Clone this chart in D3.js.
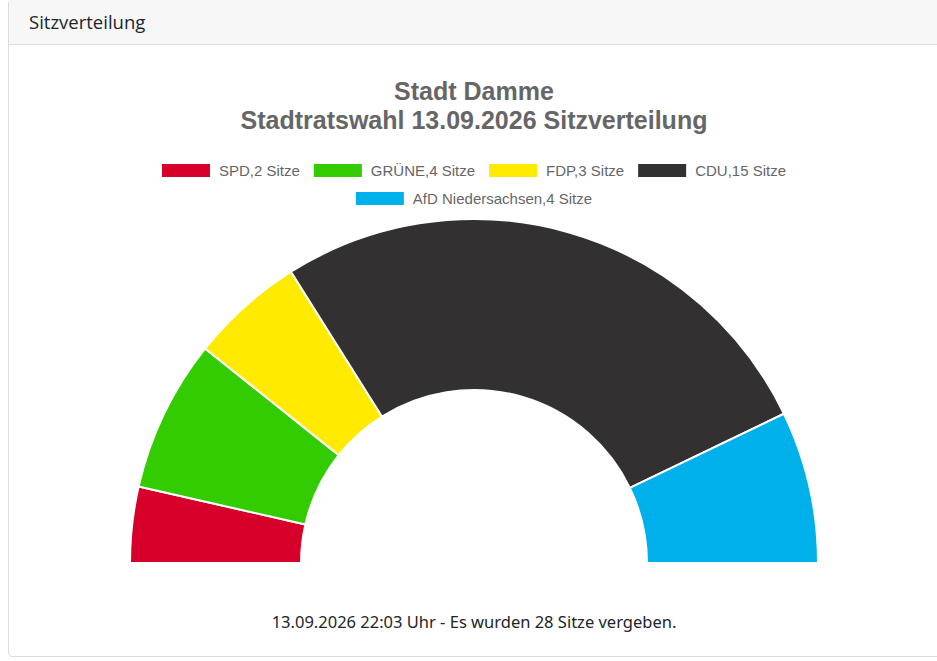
<!DOCTYPE html>
<html lang="de">
<head>
<meta charset="UTF-8">
<title>Sitzverteilung</title>
<script src="https://d3js.org/d3.v7.min.js"></script>
<style>
  body { margin: 0; padding: 0; background: #fff; overflow: hidden; }
  .card { position: absolute; left: 8px; top: -1px; width: 960px; height: 656px;
          border: 1px solid #dcdcdc; border-radius: 4px; background: #fff; }
  .card-header { height: 45px; background: #f7f7f7; border-bottom: 1px solid #dcdcdc;
                 font-family: "Open Sans", sans-serif; font-size: 18.5px; color: #212529;
                 line-height: 43px; padding-left: 20px; box-sizing: border-box; }
  #chart { position: absolute; left: 0; top: 0; }
</style>
</head>
<body>
<div class="card"><div class="card-header">Sitzverteilung</div></div>
<svg id="chart" width="937" height="661"></svg>
<script>
  const parties = ["SPD", "GRÜNE", "FDP", "CDU", "AfD Niedersachsen"];
  const seats = [2, 4, 3, 15, 4];
  const colors = ["#d7002a", "#33cc00", "#ffea00", "#323030", "#00b0ea"];
  const titleLines = ["Stadt Damme", "Stadtratswahl 13.09.2026 Sitzverteilung"];
  const footer = "13.09.2026 22:03 Uhr - Es wurden 28 Sitze vergeben.";

  const svg = d3.select("#chart");
  const cx = 474, cy = 563, outerR = 344, innerR = 173;

  // title
  svg.selectAll("text.title")
    .data(titleLines)
    .join("text")
    .attr("class", "title")
    .attr("x", cx)
    .attr("y", (d, i) => 100 + i * 29)
    .attr("text-anchor", "middle")
    .attr("font-family", "Liberation Sans, Arial, sans-serif")
    .attr("font-weight", "bold")
    .attr("font-size", 25)
    .attr("fill", "#666")
    .text(d => d);

  // legend, wrapped and centered like the original
  const items = parties.map((p, i) => ({ label: p + "," + seats[i] + " Sitze", color: colors[i] }));
  const legend = svg.append("g");
  const rectW = 48, rectH = 13, gap = 9, spacing = 14, maxRow = 680;
  const nodes = items.map(it => {
    const g = legend.append("g");
    g.append("rect").attr("width", rectW).attr("height", rectH).attr("fill", it.color);
    const t = g.append("text")
      .attr("x", rectW + gap).attr("y", rectH - 1)
      .attr("font-family", "Liberation Sans, Arial, sans-serif")
      .attr("font-size", 15).attr("fill", "#666")
      .text(it.label);
    return { g, w: rectW + gap + t.node().getComputedTextLength() };
  });
  const rows = [[]];
  let rowW = 0;
  nodes.forEach(n => {
    const add = rows[rows.length - 1].length ? spacing + n.w : n.w;
    if (rowW + add > maxRow) { rows.push([n]); rowW = n.w; }
    else { rows[rows.length - 1].push(n); rowW += add; }
  });
  rows.forEach((row, r) => {
    const total = d3.sum(row, n => n.w) + spacing * (row.length - 1);
    let x = cx - total / 2;
    row.forEach(n => {
      n.g.attr("transform", `translate(${x},${164 + r * 28})`);
      x += n.w + spacing;
    });
  });

  // half donut
  const pie = d3.pie().sort(null).startAngle(-Math.PI / 2).endAngle(Math.PI / 2);
  const arc = d3.arc().innerRadius(innerR).outerRadius(outerR);
  svg.append("g")
    .attr("transform", `translate(${cx},${cy})`)
    .selectAll("path")
    .data(pie(seats))
    .join("path")
    .attr("d", arc)
    .attr("fill", (d, i) => colors[i])
    .attr("stroke", "#fff")
    .attr("stroke-width", 2)
    .attr("stroke-linejoin", "round");

  // footer
  svg.append("text")
    .attr("x", cx)
    .attr("y", 628)
    .attr("text-anchor", "middle")
    .attr("font-family", "Noto Sans, sans-serif")
    .attr("font-size", 16.5)
    .attr("fill", "#212529")
    .text(footer);
</script>
</body>
</html>
